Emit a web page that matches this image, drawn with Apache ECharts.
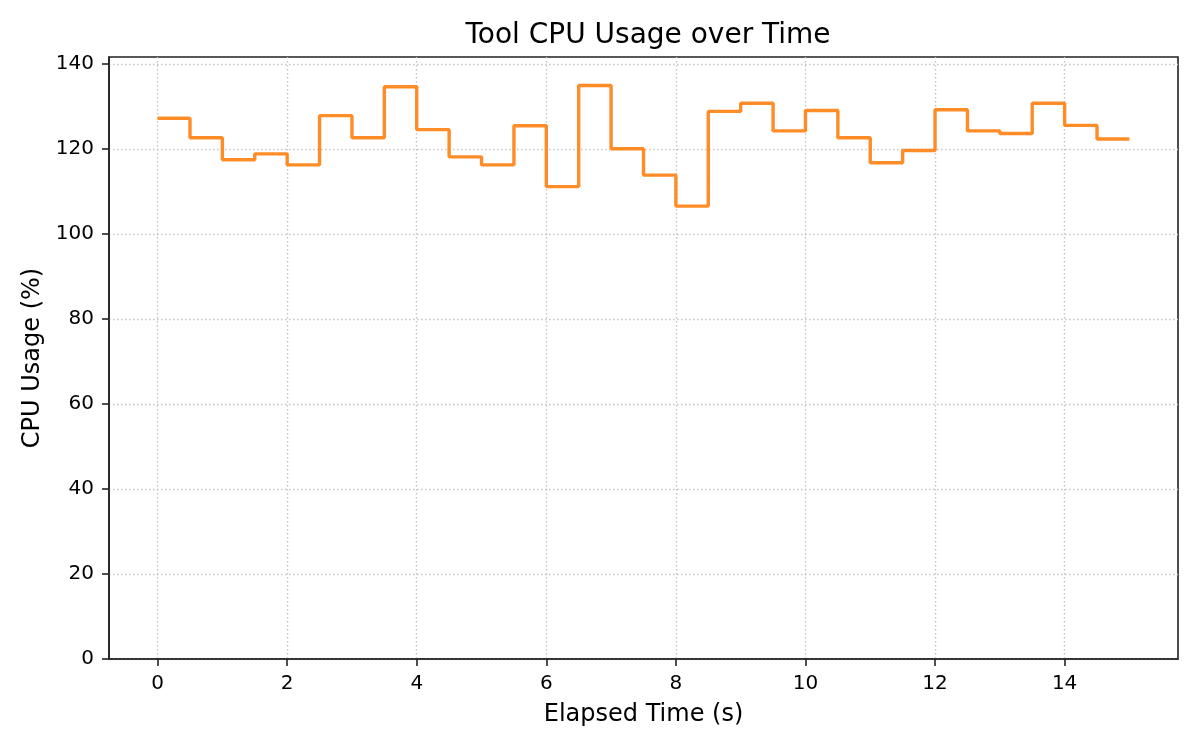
<!DOCTYPE html>
<html>
<head>
<meta charset="utf-8">
<script src="https://cdn.jsdelivr.net/npm/echarts@6/dist/echarts.min.js"></script>
<style>
html,body{margin:0;padding:0;background:#fff;}
#chart{width:1200px;height:750px;}
</style>
</head>
<body>
<div id="chart"></div>
<script>
const elapsedTime = [0, 0.5, 1, 1.5, 2, 2.5, 3, 3.5, 4, 4.5, 5, 5.5, 6, 6.5, 7, 7.5, 8, 8.5, 9, 9.5, 10, 10.5, 11, 11.5, 12, 12.5, 13, 13.5, 14, 14.5, 15];
const cpuUsage = [127.3, 122.7, 117.5, 118.9, 116.3, 127.9, 122.7, 134.7, 124.6, 118.2, 116.3, 125.5, 111.2, 135.0, 120.1, 113.9, 106.6, 128.9, 130.8, 124.3, 129.1, 122.7, 116.8, 119.7, 129.3, 124.3, 123.7, 130.8, 125.6, 122.4, 122.4];
const xTicks = [0, 2, 4, 6, 8, 10, 12, 14];
const yTicks = [0, 20, 40, 60, 80, 100, 120, 140];

const chart = echarts.init(document.getElementById('chart'), null, {renderer: 'canvas'});
const FONT = 'DejaVu Sans';
chart.setOption({
  animation: false,
  backgroundColor: '#ffffff',
  textStyle: {fontFamily: FONT},
  title: {
    text: 'Tool CPU Usage over Time',
    left: 643, textAlign: 'center',
    top: 17,
    textStyle: {fontFamily: FONT, fontSize: 28, fontWeight: 'normal', color: '#000'}
  },
  grid: {
    left: 109, right: 22, top: 57, bottom: 91,
    show: true, borderColor: '#222', borderWidth: 1.6, backgroundColor: 'transparent'
  },
  xAxis: {
    type: 'value',
    min: -0.75, max: 15.75,
    name: 'Elapsed Time (s)',
    nameLocation: 'middle',
    nameGap: 44,
    nameTextStyle: {fontFamily: FONT, fontSize: 24, color: '#000'},
    axisLine: {show: true, onZero: false, lineStyle: {color: '#222', width: 1.6}},
    axisTick: {show: true, length: 7, lineStyle: {color: '#222', width: 1.6}, customValues: xTicks},
    axisLabel: {fontFamily: FONT, fontSize: 20, color: '#000', margin: 15, customValues: xTicks},
    splitLine: {show: true, lineStyle: {color: '#c4c4c4', width: 1.4, type: [1.5, 2.5]}}
  },
  yAxis: {
    type: 'value',
    min: 0, max: 141.7,
    name: 'CPU Usage (%)',
    nameLocation: 'middle',
    nameGap: 61,
    nameTextStyle: {fontFamily: FONT, fontSize: 24, color: '#000'},
    axisLine: {show: true, onZero: false, lineStyle: {color: '#222', width: 1.6}},
    axisTick: {show: true, length: 7, lineStyle: {color: '#222', width: 1.6}, customValues: yTicks},
    axisLabel: {fontFamily: FONT, fontSize: 20, color: '#000', margin: 15, customValues: yTicks},
    splitLine: {show: true, lineStyle: {color: '#c4c4c4', width: 1.4, type: [1.5, 2.5]}}
  },
  series: [{
    type: 'line',
    step: 'end',
    data: elapsedTime.map((t, i) => [t, cpuUsage[i]]),
    showSymbol: false,
    lineStyle: {color: '#ff7f0e', width: 3.4, opacity: 0.9},
    itemStyle: {color: '#ff7f0e'}
  }]
});
</script>
</body>
</html>
